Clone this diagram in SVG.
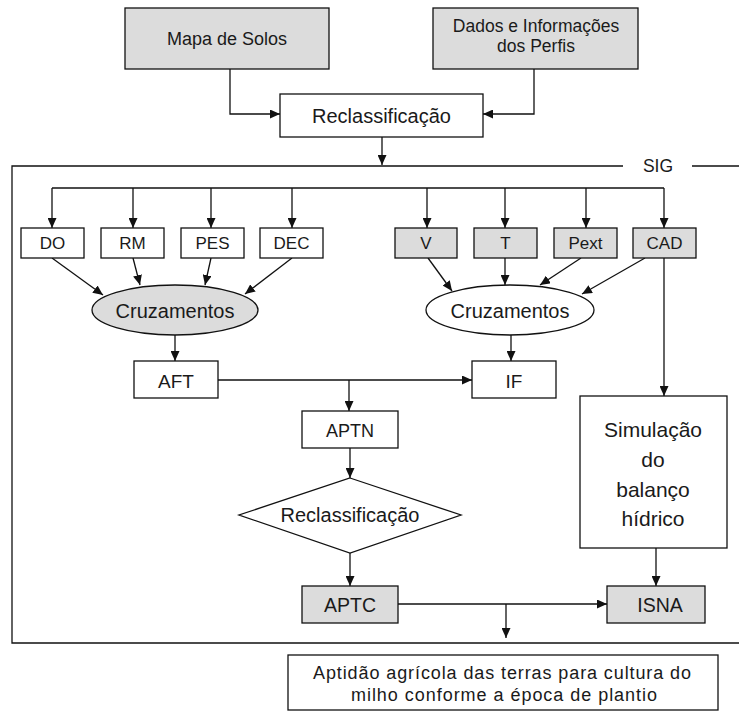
<svg xmlns="http://www.w3.org/2000/svg" width="739" height="712" viewBox="0 0 739 712">
<defs>
<marker id="ah" markerUnits="userSpaceOnUse" markerWidth="10" markerHeight="9" refX="10" refY="4.5" orient="auto">
<path d="M0,0 L10,4.5 L0,9 z" fill="#111"/>
</marker>
<style>
.b{fill:#fff;stroke:#111;stroke-width:1.3}
.g{fill:#dcdcdc;stroke:#111;stroke-width:1.3}
.c{fill:none;stroke:#111;stroke-width:1.3}
.a{fill:none;stroke:#111;stroke-width:1.3;marker-end:url(#ah)}
text{font-family:"Liberation Sans",Arial,sans-serif;fill:#1a1a1a;text-anchor:middle}
</style>
</defs>
<rect width="739" height="712" fill="#fff"/>
<g id="frame">
<path class="c" d="M623,166 H12 V643 H739 M692,166 H739"/>
<text x="658" y="172" font-size="17.5">SIG</text>
</g>
<g id="connectors">
<path class="a" d="M230,69 V114 H280"/>
<path class="a" d="M534,69 V114 H483"/>
<path class="a" d="M382,137 V165"/>
<path class="c" d="M52,188 H664"/>
<path class="a" d="M52,188 V228"/>
<path class="a" d="M133,188 V228"/>
<path class="a" d="M211,188 V228"/>
<path class="a" d="M292,188 V228"/>
<path class="a" d="M427,188 V228"/>
<path class="a" d="M505,188 V228"/>
<path class="a" d="M586,188 V228"/>
<path class="a" d="M664,188 V228"/>
<path class="a" d="M52,258 L103,295"/>
<path class="a" d="M133,258 L140,285"/>
<path class="a" d="M211,258 L205,285"/>
<path class="a" d="M292,258 L245,294"/>
<path class="a" d="M428,258 L452,291"/>
<path class="a" d="M505,258 V285"/>
<path class="a" d="M581,258 L540,285"/>
<path class="a" d="M645,258 L582,294"/>
<path class="a" d="M664,258 V396"/>
<path class="a" d="M175,335 V361"/>
<path class="a" d="M511,335 V361"/>
<path class="a" d="M218,380 H472"/>
<path class="a" d="M349,380 V411"/>
<path class="a" d="M350,448 V478"/>
<path class="a" d="M350,553 V586"/>
<path class="a" d="M398,604 H607"/>
<path class="a" d="M506,604 V638"/>
<path class="a" d="M656,548 V586"/>
</g>
<g id="mapa"><rect class="g" x="125" y="8" width="204" height="61"/><text x="227" y="45" font-size="18">Mapa de Solos</text></g>
<g id="dados"><rect class="g" x="433" y="8" width="205" height="61"/><text x="536" y="32" font-size="17.5">Dados e Informações</text><text x="536" y="52" font-size="17.5">dos Perfis</text></g>
<g id="reclass1"><rect class="b" x="280" y="94" width="203" height="43"/><text x="381.5" y="123" font-size="20">Reclassificação</text></g>
<g id="do"><rect class="b" x="21" y="228" width="63" height="30"/><text x="52.5" y="249" font-size="17">DO</text></g>
<g id="rm"><rect class="b" x="101" y="228" width="63" height="30"/><text x="132.5" y="249" font-size="17">RM</text></g>
<g id="pes"><rect class="b" x="181" y="228" width="63" height="30"/><text x="212.5" y="249" font-size="17">PES</text></g>
<g id="dec"><rect class="b" x="260" y="228" width="63" height="30"/><text x="291.5" y="249" font-size="17">DEC</text></g>
<g id="v"><rect class="g" x="395" y="228" width="62" height="30"/><text x="426" y="249" font-size="17">V</text></g>
<g id="t"><rect class="g" x="474" y="228" width="63" height="30"/><text x="505.5" y="249" font-size="17">T</text></g>
<g id="pext"><rect class="g" x="554" y="228" width="63" height="30"/><text x="585.5" y="249" font-size="17">Pext</text></g>
<g id="cad"><rect class="g" x="633" y="228" width="63" height="30"/><text x="664.5" y="249" font-size="17">CAD</text></g>
<g id="cruz1"><ellipse class="g" cx="175" cy="310" rx="83" ry="25"/><text x="175" y="318" font-size="20">Cruzamentos</text></g>
<g id="cruz2"><ellipse class="b" cx="510" cy="310" rx="84" ry="25"/><text x="510" y="318" font-size="20">Cruzamentos</text></g>
<g id="aft"><rect class="b" x="134" y="361" width="84" height="37"/><text x="176" y="388" font-size="19">AFT</text></g>
<g id="if"><rect class="b" x="472" y="361" width="84" height="37"/><text x="514" y="388" font-size="19">IF</text></g>
<g id="aptn"><rect class="b" x="302" y="411" width="96" height="37"/><text x="350" y="437" font-size="18">APTN</text></g>
<g id="reclass2"><polygon class="b" points="350,478 461,515 350,553 239,515"/><text x="350" y="522" font-size="20">Reclassificação</text></g>
<g id="aptc"><rect class="g" x="302" y="586" width="96" height="37"/><text x="350" y="612" font-size="19.5">APTC</text></g>
<g id="sim"><rect class="b" x="580" y="396" width="147" height="152"/>
<text x="653" y="437" font-size="21">Simulação</text>
<text x="653" y="467" font-size="21">do</text>
<text x="653" y="497" font-size="21">balanço</text>
<text x="653" y="526" font-size="21">hídrico</text></g>
<g id="isna"><rect class="g" x="607" y="586" width="98" height="37"/><text x="660" y="612" font-size="19.5">ISNA</text></g>
<g id="result"><rect class="b" x="288" y="655" width="430" height="55"/>
<text x="502" y="679" font-size="18" textLength="378" lengthAdjust="spacing">Aptidão agrícola das terras para cultura do</text>
<text x="504" y="701" font-size="18" textLength="306" lengthAdjust="spacing">milho conforme a época de plantio</text></g>
</svg>
